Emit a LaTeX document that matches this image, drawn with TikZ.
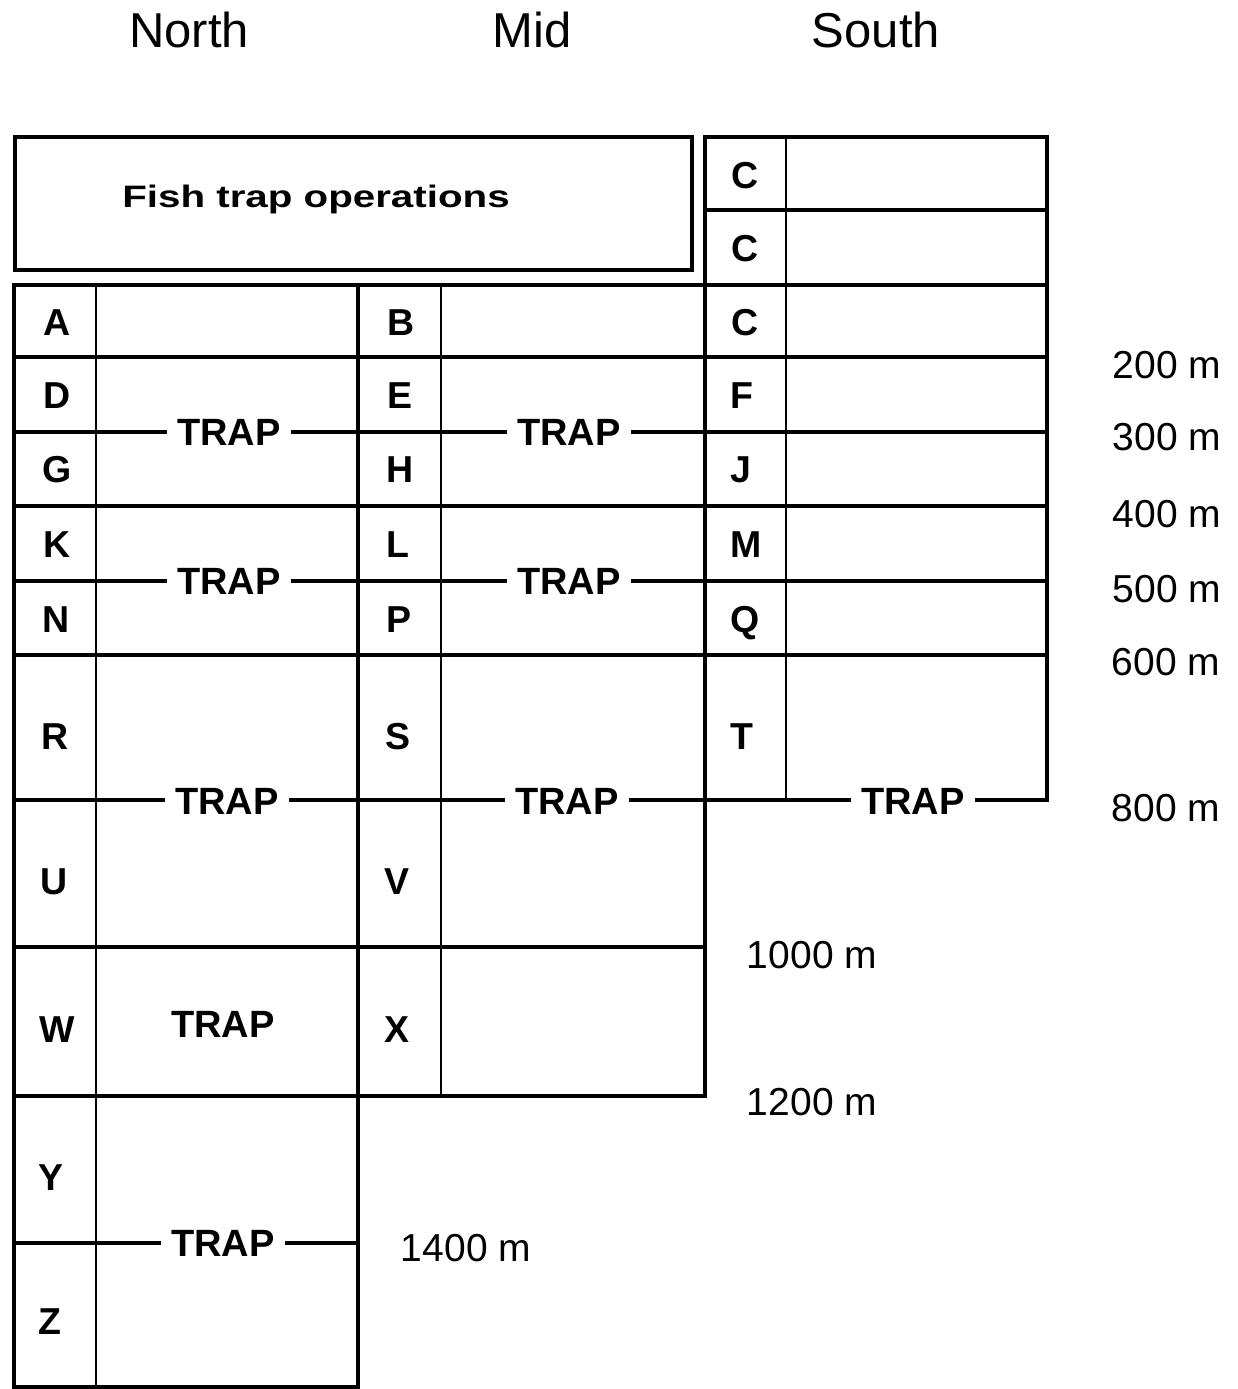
\documentclass[tikz,border=0pt]{standalone}
\usepackage{fontspec}
\setmainfont{Liberation Sans}
\begin{document}
\begin{tikzpicture}[x=1pt,y=-1pt,
  thick line/.style={line width=3.5pt},
  thin line/.style={line width=2.3pt},
  head/.style={font=\fontsize{49}{52}\selectfont, anchor=base, inner sep=0pt},
  lbl/.style={font=\fontsize{37.5}{40}\selectfont\bfseries, anchor=base, inner sep=0pt},
  trap/.style={font=\fontsize{38}{40}\selectfont\bfseries, fill=white, inner xsep=10pt, inner ysep=3pt},
  trapplain/.style={font=\fontsize{38}{40}\selectfont\bfseries, anchor=base, inner sep=0pt},
  depth/.style={font=\fontsize{39}{42}\selectfont, anchor=base, inner sep=0pt}]
\useasboundingbox (0,0) rectangle (1238,1389);

% headers
\node[head] (hnorth) at (189,48) {North};
\node[head] (hmid) at (532,48) {Mid};
\node[head] (hsouth) at (876,48) {South};

% title box
\draw[thick line] (15,137) rectangle (692,270);
\node[font=\fontsize{31}{34}\selectfont\bfseries, anchor=base, inner sep=0pt] (title) at (316,207) {\scalebox{1.3}[1]{Fish trap operations}};

% horizontal lines
\draw[thick line] (705,137) -- (1047,137);
\draw[thick line] (705,210) -- (1047,210);
\foreach \yy in {285,357,432,506,581,655,800}
  \draw[thick line] (14,\yy) -- (1047,\yy);
\draw[thick line] (14,947) -- (705,947);
\draw[thick line] (14,1096) -- (705,1096);
\draw[thick line] (14,1243) -- (358,1243);
\draw[thick line] (14,1387) -- (358,1387);

% vertical lines
\draw[thick line] (14,283.25) -- (14,1388.75);
\draw[thin line] (96,285) -- (96,1387);
\draw[thick line] (358,285) -- (358,1388.75);
\draw[thin line] (441,285) -- (441,1096);
\draw[thick line] (705,135.25) -- (705,1097.75);
\draw[thin line] (786,137) -- (786,800);
\draw[thick line] (1047,135.25) -- (1047,801.75);

% south top labels
\node[lbl] (c1) at (745,188) {C};
\node[lbl] (c2) at (745,261) {C};
% labels north
\node[lbl] (la) at (57,335) {A};
\node[lbl] (ld) at (57,408) {D};
\node[lbl] (lg) at (57,482) {G};
\node[lbl] (lk) at (57,557) {K};
\node[lbl] (ln) at (56,632) {N};
\node[lbl] (lr) at (55,749) {R};
\node[lbl] (lu) at (54,894) {U};
\node[lbl] (lw) at (57,1042) {W};
\node[lbl] (ly) at (51,1190) {Y};
\node[lbl] (lz) at (50,1334) {Z};
% labels mid
\node[lbl] (lb) at (401,335) {B};
\node[lbl] (le) at (400,408) {E};
\node[lbl] (lh) at (400,482) {H};
\node[lbl] (ll) at (398,557) {L};
\node[lbl] (lp) at (399,632) {P};
\node[lbl] (ls) at (398,749) {S};
\node[lbl] (lv) at (397,894) {V};
\node[lbl] (lx) at (397,1042) {X};
% labels south
\node[lbl] (lc) at (745,335) {C};
\node[lbl] (lf) at (742,408) {F};
\node[lbl] (lj) at (741,482) {J};
\node[lbl] (lm) at (746,557) {M};
\node[lbl] (lq) at (745,632) {Q};
\node[lbl] (lt) at (742,749) {T};

% TRAP labels on lines
\node[trap] (t1) at (229,432) {TRAP};
\node[trap] (t2) at (569,432) {TRAP};
\node[trap] (t3) at (229,581) {TRAP};
\node[trap] (t4) at (569,581) {TRAP};
\node[trap] (t5) at (227,801) {TRAP};
\node[trap] (t6) at (567,801) {TRAP};
\node[trap] (t7) at (913,801) {TRAP};
\node[trap] (t9) at (223,1243) {TRAP};
\node[trapplain] (t8) at (223,1037) {TRAP};

% depth labels
\node[depth] (d200) at (1167,378) {200 m};
\node[depth] (d300) at (1167,450) {300 m};
\node[depth] (d400) at (1167,527) {400 m};
\node[depth] (d500) at (1167,602) {500 m};
\node[depth] (d600) at (1166,675) {600 m};
\node[depth] (d800) at (1166,821) {800 m};
\node[depth] (d1000) at (812,968) {1000 m};
\node[depth] (d1200) at (812,1115) {1200 m};
\node[depth] (d1400) at (466,1261) {1400 m};
\end{tikzpicture}
\end{document}
